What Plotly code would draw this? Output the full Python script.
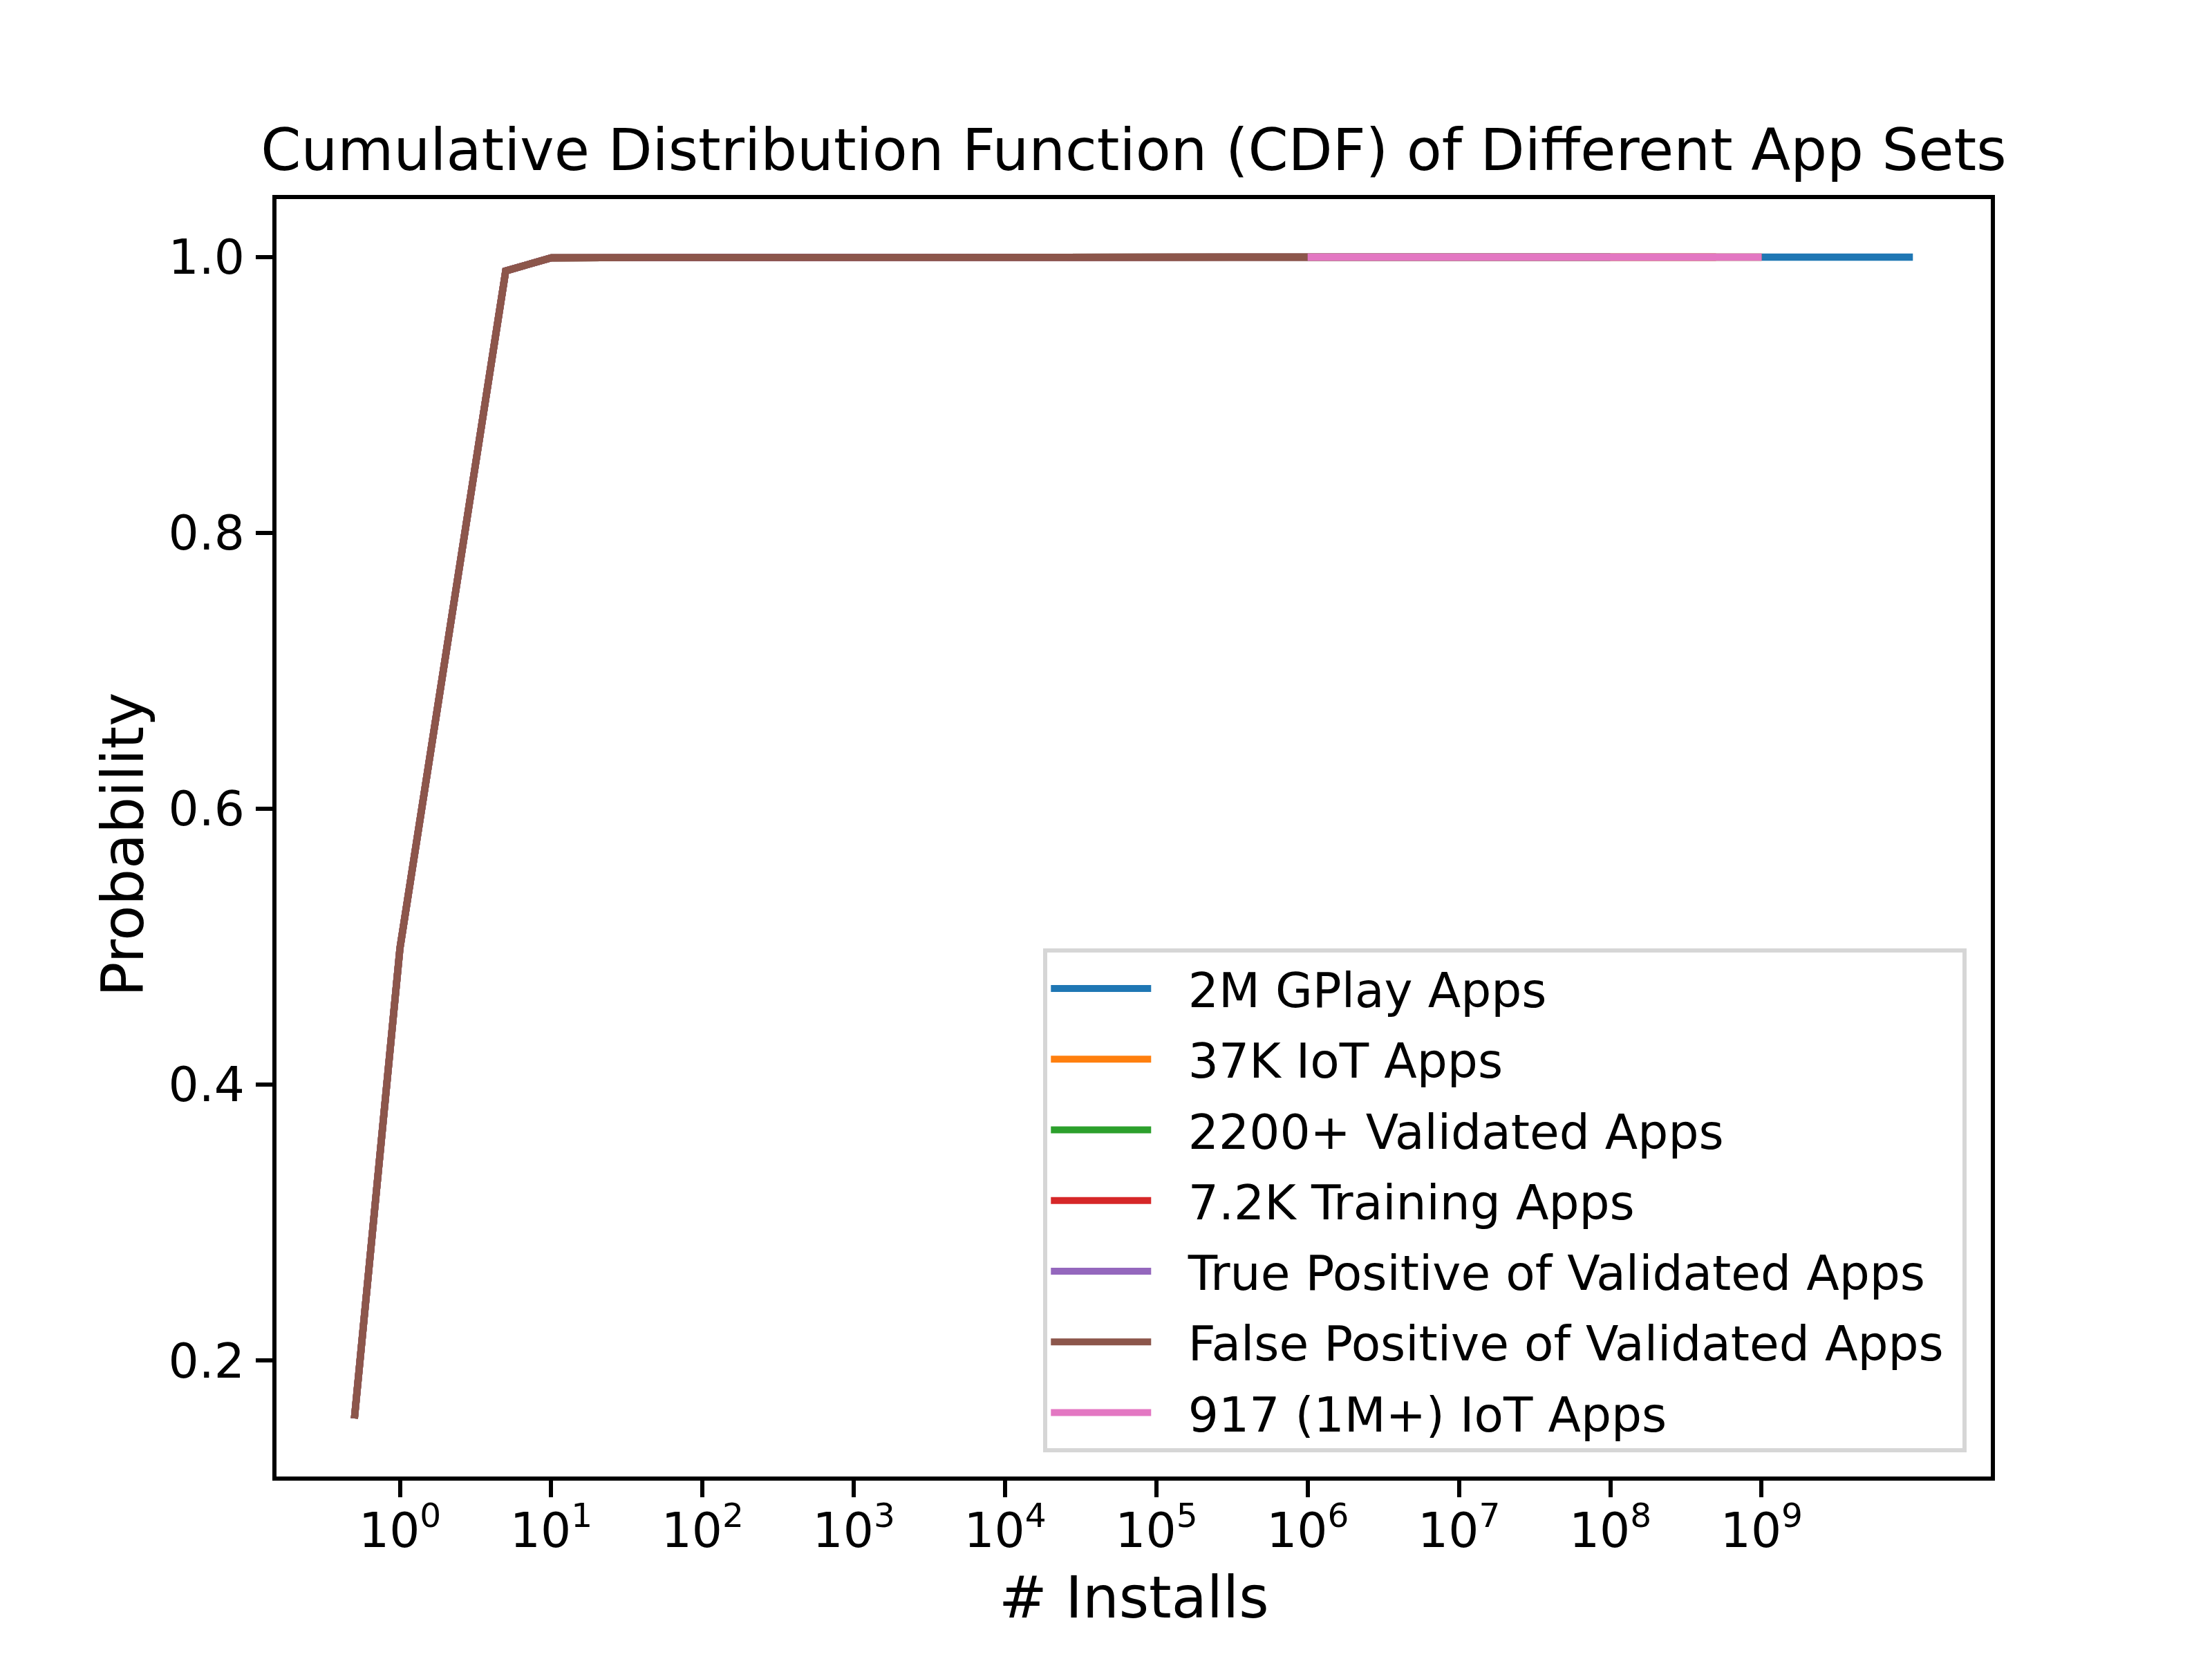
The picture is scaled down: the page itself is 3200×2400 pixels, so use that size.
import plotly.graph_objects as go

# ---- data ----
install_buckets = [0.5, 1, 5, 10, 50, 100, 500, 1e3, 5e3, 1e4, 5e4, 1e5, 5e5,
                   1e6, 5e6, 1e7, 5e7, 1e8, 5e8, 1e9, 5e9, 1e10]

gplay_2m = [0.158, 0.499, 0.990, 0.9995, 0.9997, 0.9998, 0.9999, 0.9999, 1.0, 1.0,
            1.0, 1.0, 1.0, 1.0, 1.0, 1.0, 1.0, 1.0, 1.0, 1.0, 1.0, 1.0]
iot_37k = [0.158, 0.499, 0.990, 0.9995, 0.9997, 0.9998, 0.9999, 0.9999, 1.0, 1.0,
           1.0, 1.0, 1.0, 1.0, 1.0, 1.0, 1.0, 1.0, 1.0, 1.0]
validated_2200 = [0.158, 0.499, 0.990, 0.9995, 0.9997, 0.9998, 0.9999, 0.9999, 1.0,
                  1.0, 1.0, 1.0, 1.0, 1.0, 1.0, 1.0, 1.0, 1.0]
training_7k = [0.158, 0.499, 0.990, 0.9995, 0.9997, 0.9998, 0.9999, 0.9999, 1.0, 1.0,
               1.0, 1.0, 1.0, 1.0, 1.0, 1.0, 1.0, 1.0, 1.0]
true_pos = [0.158, 0.499, 0.990, 0.9995, 0.9997, 0.9998, 0.9999, 0.9999, 1.0, 1.0,
            1.0, 1.0, 1.0, 1.0, 1.0, 1.0, 1.0, 1.0]
false_pos = [0.158, 0.499, 0.990, 0.9995, 0.9997, 0.9998, 0.9999, 0.9999, 1.0, 1.0,
             1.0, 1.0, 1.0, 1.0]
iot_1m_x = [1e6, 5e6, 1e7, 5e7, 1e8, 5e8, 1e9]
iot_1m = [1.0, 1.0, 1.0, 1.0, 1.0, 1.0, 1.0]

series_names = ["2M GPlay Apps", "37K IoT Apps", "2200+ Validated Apps",
                "7.2K Training Apps", "True Positive of Validated Apps",
                "False Positive of Validated Apps", "917 (1M+) IoT Apps"]
series_colors = ["#1f77b4", "#ff7f0e", "#2ca02c", "#d62728", "#9467bd",
                 "#8c564b", "#e377c2"]

x_tick_vals = [1, 10, 100, 1e3, 1e4, 1e5, 1e6, 1e7, 1e8, 1e9]
x_tick_text = ["10<sup>%d</sup>" % i for i in range(10)]
y_tick_vals = [0.2, 0.4, 0.6, 0.8, 1.0]
y_tick_text = ["0.2", "0.4", "0.6", "0.8", "1.0"]

# ---- figure ----
W, H = 3200, 2400
ML, MR, MT, MB = 400, 320, 288, 264
PT = 500 / 72.0
FONT = "DejaVu Sans"
GAP_L = "\u2002\u2009"  # handle-to-text padding in legend
GAP_R = "\u00a0"        # right padding in legend

series_x = [install_buckets[:len(gplay_2m)], install_buckets[:len(iot_37k)],
            install_buckets[:len(validated_2200)], install_buckets[:len(training_7k)],
            install_buckets[:len(true_pos)], install_buckets[:len(false_pos)], iot_1m_x]
series_y = [gplay_2m, iot_37k, validated_2200, training_7k, true_pos, false_pos, iot_1m]

fig = go.Figure()
for i, (name, color, xs, ys) in enumerate(zip(series_names, series_colors, series_x, series_y)):
    fig.add_trace(go.Scatter(x=xs, y=ys, mode="lines", name=GAP_L + name + GAP_R,
                             line=dict(color=color, width=1.5 * PT),
                             legendgroup="g%d" % i))

axis_common = dict(showline=True, linecolor="black", linewidth=0.8 * PT, mirror=True,
                   ticks="outside", ticklen=3.5 * PT, tickwidth=0.8 * PT,
                   tickcolor="black", showgrid=False, zeroline=False,
                   tickfont=dict(family=FONT, size=10 * PT, color="black"))

fig.update_xaxes(type="log", range=[-0.816, 10.515], tickmode="array",
                 tickvals=x_tick_vals, ticktext=x_tick_text,
                 ticklabelstandoff=-11, **axis_common)
fig.update_yaxes(range=[0.1159, 1.0421], tickmode="array",
                 tickvals=y_tick_vals, ticktext=y_tick_text,
                 ticklabelstandoff=2, **axis_common)

fig.update_layout(
    width=W, height=H,
    margin=dict(l=ML, r=MR, t=MT, b=MB, pad=0),
    paper_bgcolor="white", plot_bgcolor="white",
    font=dict(family=FONT, color="black"),
    title=dict(text="Cumulative Distribution Function (CDF) of Different App Sets",
               x=0.5, xref="paper", xanchor="center",
               y=1 - 246 / H, yref="container", yanchor="bottom",
               font=dict(family=FONT, size=12 * PT, color="black")),
    legend=dict(x=0.986, y=0.0188, xanchor="right", yanchor="bottom",
                bgcolor="rgba(255,255,255,0.8)", bordercolor="#d6d6d6",
                borderwidth=6, font=dict(family=FONT, size=10 * PT, color="black"),
                itemwidth=145, tracegroupgap=9, itemclick=False,
                itemdoubleclick=False),
    annotations=[
        dict(text="# Installs", x=0.5, y=0, xref="paper", yref="paper",
             xanchor="center", yanchor="middle", yshift=-175, showarrow=False,
             font=dict(family=FONT, size=12 * PT, color="black")),
        dict(text="Probability", x=0, y=0.5, xref="paper", yref="paper",
             xanchor="center", yanchor="middle", xshift=-222, yshift=-10,
             textangle=-90, showarrow=False,
             font=dict(family=FONT, size=12 * PT, color="black")),
    ],
)

fig.write_html("out.html")
